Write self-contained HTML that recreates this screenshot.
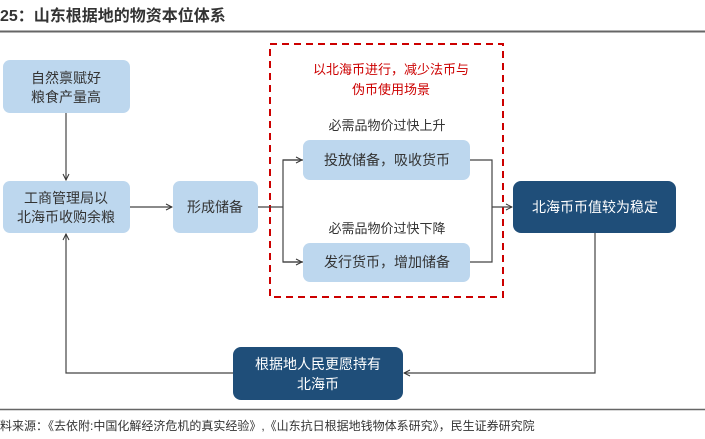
<!DOCTYPE html>
<html><head><meta charset="utf-8"><style>
html,body{margin:0;padding:0;background:#fff;}
svg{display:block;font-family:"Liberation Sans","Noto Sans CJK SC",sans-serif;}
</style></head><body>
<svg width="705" height="439" viewBox="0 0 705 439" xmlns="http://www.w3.org/2000/svg">
<defs>
<marker id="a" markerWidth="8" markerHeight="8" refX="7" refY="4" orient="auto" markerUnits="userSpaceOnUse">
<path d="M1,1 L7,4 L1,7" fill="none" stroke="#333" stroke-width="1"/></marker>
</defs>
<text x="0" y="21" font-size="16" font-weight="bold" fill="#333">25：山东根据地的物资本位体系</text>
<line x1="0" y1="31.5" x2="705" y2="31.5" stroke="#666" stroke-width="2"/>
<line x1="0" y1="409.5" x2="705" y2="409.5" stroke="#666" stroke-width="1.5"/>
<text x="0" y="430" font-size="12" fill="#333">料来源：《去依附:中国化解经济危机的真实经验》,《山东抗日根据地钱物体系研究》，民生证券研究院</text>

<rect x="270" y="44" width="233" height="253" fill="none" stroke="#c00" stroke-width="2" stroke-dasharray="7,5"/>
<text text-anchor="middle" font-size="13" fill="#c00"><tspan x="391" y="74">以北海币进行，减少法币与</tspan><tspan x="391" y="94">伪币使用场景</tspan></text>
<text x="387" y="130" text-anchor="middle" font-size="13" fill="#333">必需品物价过快上升</text>
<text x="387" y="233" text-anchor="middle" font-size="13" fill="#333">必需品物价过快下降</text>

<g fill="#bdd7ee">
<rect x="3" y="60" width="127" height="53" rx="7"/>
<rect x="3" y="181" width="127" height="52" rx="7"/>
<rect x="173" y="181" width="85" height="52" rx="7"/>
<rect x="303" y="140" width="167" height="40" rx="7"/>
<rect x="303" y="243" width="167" height="39" rx="7"/>
</g>
<g fill="#1f4e79">
<rect x="513" y="181" width="163" height="52" rx="8"/>
<rect x="233" y="347" width="170" height="53" rx="8"/>
</g>
<g font-size="14" fill="#333" text-anchor="middle">
<text x="66" y="83">自然禀赋好</text><text x="66" y="102">粮食产量高</text>
<text x="66" y="203">工商管理局以</text><text x="66" y="222">北海币收购余粮</text>
<text x="215" y="212">形成储备</text>
<text x="387" y="165">投放储备，吸收货币</text>
<text x="387" y="267">发行货币，增加储备</text>
</g>
<g font-size="14" fill="#fff" text-anchor="middle">
<text x="595" y="212">北海币币值较为稳定</text>
<text x="318" y="369">根据地人民更愿持有</text><text x="318" y="389">北海币</text>
</g>

<g fill="none" stroke="#444" stroke-width="1.2">
<line x1="66" y1="113" x2="66" y2="180" marker-end="url(#a)"/>
<line x1="130" y1="207" x2="172" y2="207" marker-end="url(#a)"/>
<polyline points="258,207 283,207"/>
<polyline points="303,160 283,160 283,262 303,262"/>
<line x1="283" y1="160" x2="302" y2="160" marker-end="url(#a)"/>
<line x1="283" y1="262" x2="302" y2="262" marker-end="url(#a)"/>
<polyline points="470,160 492,160 492,262 470,262"/>
<line x1="492" y1="207" x2="512" y2="207" marker-end="url(#a)"/>
<polyline points="595,233 595,373 404,373" marker-end="url(#a)"/>
<polyline points="233,373 66,373 66,234" marker-end="url(#a)"/>
</g>
</svg>
</body></html>
